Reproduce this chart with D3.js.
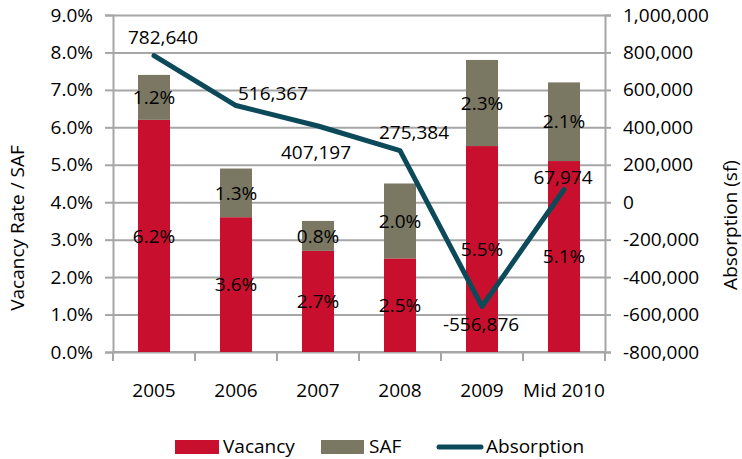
<!DOCTYPE html>
<html>
<head>
<meta charset="utf-8">
<script src="https://cdn.jsdelivr.net/npm/d3@7"></script>
<style>
    body { margin: 0; background: #fff; }
    text { font-family: "Open Sans", sans-serif; fill: #000; }
</style>
</head>
<body>
<svg id="chart" width="742" height="459"></svg>
<script>
var years = ["2005", "2006", "2007", "2008", "2009", "Mid 2010"];
var vacancy = [6.2, 3.6, 2.7, 2.5, 5.5, 5.1];
var saf = [1.2, 1.3, 0.8, 2.0, 2.3, 2.1];
var absorption = [782640, 516367, 407197, 275384, -556876, 67974];
var pctTicks = [0, 1, 2, 3, 4, 5, 6, 7, 8, 9];
var sfTicks = [-800000, -600000, -400000, -200000, 0, 200000, 400000, 600000, 800000, 1000000];

// where Excel dropped the absorption labels, relative to each point
var absLabelShift = [[9, -18], [37, -12], [-2, 26], [14, -18], [-1, 18], [-1, -12]];

var plotLeft = 113, plotRight = 605, plotTop = 15, plotBottom = 352;
var red = "#c8102e", olive = "#7a7762", teal = "#0c4a5a", grid = "#a6a6a6";
var fontSize = 19;

var svg = d3.select("#chart");

var x = d3.scaleBand().domain(years).range([plotLeft, plotRight]);
var yPct = d3.scaleLinear().domain([0, 9]).range([plotBottom, plotTop]);
var ySf = d3.scaleLinear().domain([-800000, 1000000]).range([plotBottom, plotTop]);

// plain hyphen for negatives, like the Excel original
var locale = d3.formatLocale({ decimal: ".", thousands: ",", grouping: [3], currency: ["$", ""], minus: "-" });
var pctFmt = function(d) { return locale.format(".1f")(d) + "%"; };
var sfFmt = locale.format(",");

// gridlines + left axis
var gLeft = svg.append("g")
    .attr("transform", "translate(" + plotLeft + ",0)")
    .call(d3.axisLeft(yPct).tickValues(pctTicks).tickFormat(pctFmt).tickSize(8).tickPadding(12));
gLeft.selectAll(".tick").append("line")
    .attr("x2", plotRight - plotLeft);

// right axis
var gRight = svg.append("g")
    .attr("transform", "translate(" + plotRight + ",0)")
    .call(d3.axisRight(ySf).tickValues(sfTicks).tickFormat(sfFmt).tickSize(6).tickPadding(12));

// bottom axis
var gBottom = svg.append("g")
    .attr("transform", "translate(0," + plotBottom + ")")
    .call(d3.axisBottom(x).tickSize(0).tickPadding(32));
gBottom.selectAll(".tick").append("line")
    .attr("x1", -x.bandwidth() / 2).attr("x2", -x.bandwidth() / 2)
    .attr("y2", 9);
gBottom.append("line")
    .attr("x1", plotRight).attr("x2", plotRight).attr("y2", 9);

[gLeft, gRight, gBottom].forEach(function(g) {
    g.select(".domain").attr("stroke", grid).attr("stroke-width", 2);
    g.selectAll("line").attr("stroke", grid).attr("stroke-width", 2);
    g.selectAll("text").attr("font-size", fontSize).attr("fill", "#000")
        .style("font-family", '"Open Sans", sans-serif');
});
gBottom.select(".domain").attr("d", "M" + plotLeft + ",0H" + plotRight);

// stacked bars
var barW = 32;
var rows = years.map(function(yr, i) {
    return { year: yr, vac: vacancy[i], saf: saf[i], abs: absorption[i] };
});

var bars = svg.append("g").selectAll("g").data(rows).enter().append("g")
    .attr("transform", function(d) { return "translate(" + (x(d.year) + (x.bandwidth() - barW) / 2) + ",0)"; });
bars.append("rect")
    .attr("y", function(d) { return yPct(d.vac); })
    .attr("width", barW)
    .attr("height", function(d) { return yPct(0) - yPct(d.vac); })
    .attr("fill", red);
bars.append("rect")
    .attr("y", function(d) { return yPct(d.vac + d.saf); })
    .attr("width", barW)
    .attr("height", function(d) { return yPct(d.vac) - yPct(d.vac + d.saf); })
    .attr("fill", olive);

// percent labels in the middle of each segment
bars.append("text")
    .attr("x", barW / 2)
    .attr("y", function(d) { return yPct(d.vac / 2); })
    .attr("dy", "0.35em")
    .attr("text-anchor", "middle")
    .attr("font-size", fontSize)
    .text(function(d) { return pctFmt(d.vac); });
bars.append("text")
    .attr("x", barW / 2)
    .attr("y", function(d) { return yPct(d.vac + d.saf / 2); })
    .attr("dy", "0.35em")
    .attr("text-anchor", "middle")
    .attr("font-size", fontSize)
    .text(function(d) { return pctFmt(d.saf); });

// absorption line
var cx = function(d) { return x(d.year) + x.bandwidth() / 2; };
var line = d3.line()
    .x(cx)
    .y(function(d) { return ySf(d.abs); });

svg.append("path")
    .datum(rows)
    .attr("d", line)
    .attr("fill", "none")
    .attr("stroke", teal)
    .attr("stroke-width", 5)
    .attr("stroke-linejoin", "round")
    .attr("stroke-linecap", "round");

svg.append("g").selectAll("text").data(rows).enter().append("text")
    .attr("x", function(d, i) { return cx(d) + absLabelShift[i][0]; })
    .attr("y", function(d, i) { return ySf(d.abs) + absLabelShift[i][1]; })
    .attr("dy", "0.35em")
    .attr("text-anchor", "middle")
    .attr("font-size", fontSize)
    .text(function(d) { return sfFmt(d.abs); });

// axis titles
svg.append("text")
    .attr("transform", "translate(17,228) rotate(-90)")
    .attr("dy", "0.35em")
    .attr("text-anchor", "middle")
    .attr("font-size", fontSize)
    .text("Vacancy Rate / SAF");
svg.append("text")
    .attr("transform", "translate(730,225) rotate(-90)")
    .attr("dy", "0.35em")
    .attr("text-anchor", "middle")
    .attr("font-size", fontSize)
    .text("Absorption  (sf)");

// legend
var legend = svg.append("g").attr("transform", "translate(0,446)");
legend.append("rect").attr("x", 175).attr("y", -6).attr("width", 44).attr("height", 14).attr("fill", red);
legend.append("text").attr("x", 223).attr("dy", "0.35em").attr("font-size", fontSize).text("Vacancy");
legend.append("rect").attr("x", 321).attr("y", -6).attr("width", 43).attr("height", 14).attr("fill", olive);
legend.append("text").attr("x", 369).attr("dy", "0.35em").attr("font-size", fontSize).text("SAF");
legend.append("line").attr("x1", 439).attr("x2", 481).attr("y1", 1).attr("y2", 1)
    .attr("stroke", teal).attr("stroke-width", 5).attr("stroke-linecap", "round");
legend.append("text").attr("x", 486).attr("dy", "0.35em").attr("font-size", fontSize).text("Absorption");
</script>
</body>
</html>
